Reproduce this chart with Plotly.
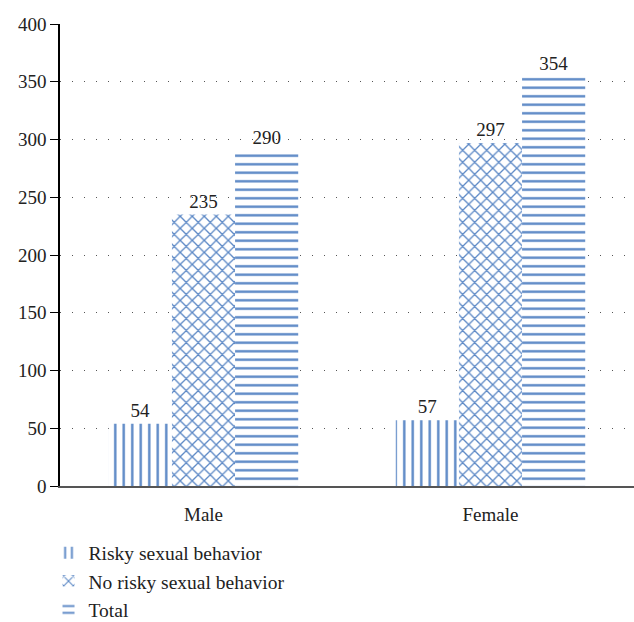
import plotly.graph_objects as go

categories = ["Male", "Female"]
series_names = ["Risky sexual behavior", "No risky sexual behavior", "Total"]
risky = [54, 57]
no_risky = [235, 297]
total = [290, 354]
y_ticks = [0, 50, 100, 150, 200, 250, 300, 350, 400]

blue = "#5a87c5"
shapes = ["|", "x", "-"]
values = [risky, no_risky, total]

fig = go.Figure()
for name, vals, shp in zip(series_names, values, shapes):
    fig.add_trace(go.Bar(
        x=categories, y=vals, name=name,
        text=[str(v) for v in vals], textposition="outside",
        textfont=dict(family="Liberation Serif", size=19, color="#222"),
        cliponaxis=False,
        marker=dict(color="white", line=dict(width=0),
                    pattern=dict(shape=shp, fgcolor=blue, bgcolor="white",
                                 size=8.5, solidity=0.28, fillmode="replace")),
    ))

fig.update_layout(
    width=634, height=622,
    margin=dict(l=60, r=0, t=24, b=136, autoexpand=False),
    paper_bgcolor="white", plot_bgcolor="white",
    barmode="group", bargap=0.34, bargroupgap=0,
    font=dict(family="Liberation Serif", size=19, color="#222"),
    showlegend=True,
    legend=dict(x=-0.02, y=-0.103, xanchor="left", yanchor="top",
                orientation="v", font=dict(size=19.5), tracegroupgap=0,
                itemwidth=30, maxheight=1.0),
    yaxis=dict(range=[0, 400], tickvals=y_ticks, showline=True, linecolor="black",
               linewidth=1.5, ticks="outside", ticklen=8, tickcolor="black",
               showgrid=True, gridcolor="#555", griddash="1px,11px", gridwidth=1,
               zeroline=False, tickfont=dict(size=19)),
    xaxis=dict(showline=True, linecolor="#555", linewidth=2, ticks="",
               ticklabelstandoff=10, tickfont=dict(size=19)),
)
fig.write_html("out.html")
